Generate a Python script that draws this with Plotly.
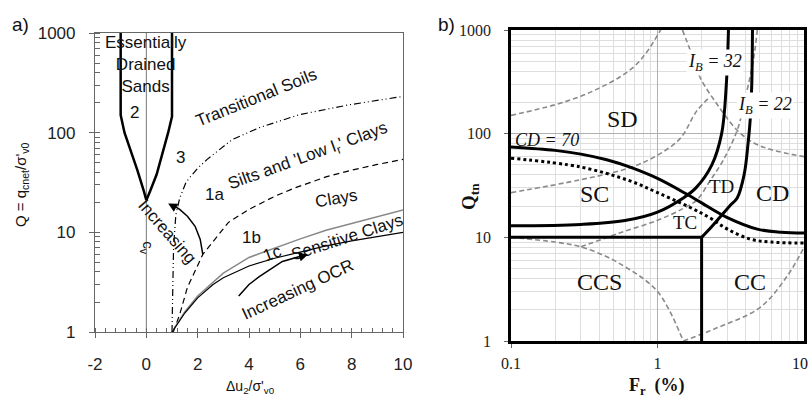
import numpy as np
import plotly.graph_objects as go

# ---------------- Panel a: Q vs du2/sigma'v0 ----------------
sand_left_x = [-1, -1, -0.85, -0.6, -0.35, -0.1, 0]
sand_left_q = [1000, 150, 100, 65, 42, 26, 21]
sand_right_x = [1, 1, 0.85, 0.65, 0.4, 0.15, 0]
sand_right_q = [1000, 145, 100, 65, 38, 26, 21]

trans_x = [1, 1.02, 1.06, 1.15, 1.3, 1.55, 2.0, 2.37, 3.34, 4.39, 5.94, 7.88, 9.83, 10]
trans_q = [1, 3, 7, 15, 22, 32, 44, 54, 85, 112, 151, 190, 229, 231]

clay_x = [1.05, 1.3, 1.6, 2.2, 3.2, 4.0, 5.0, 5.8, 7.0, 8.0, 9.0, 10]
clay_q = [1, 1.5, 2.8, 6, 12.6, 17, 23, 28, 36, 42, 48, 54]

sens_up_x = [1, 1.5, 2, 2.6, 3, 4, 5, 6, 7, 8, 9, 10]
sens_up_q = [1, 1.6, 2.3, 3.2, 3.9, 5.6, 7.0, 8.6, 10.5, 12.3, 14.3, 16.8]
sens_lo_x = [1, 1.5, 2, 2.6, 3, 4, 5, 6, 7, 8, 9, 10]
sens_lo_q = [1, 1.55, 2.2, 3.0, 3.5, 4.6, 5.5, 6.3, 7.3, 8.2, 9.1, 10]

cv_arrow_x = [2.2, 2.1, 1.9, 1.6, 1.3, 1.0]
cv_arrow_q = [6, 8.5, 11.5, 14.5, 17, 19]
ocr_arrow_x = [3.6, 4.0, 4.4, 5.3, 6.25]
ocr_arrow_q = [2.3, 3.0, 3.6, 5.1, 6.0]

# ---------------- Panel b: Qtn vs Fr ----------------
cd70_fr = [0.1, 0.2, 0.3, 0.45, 0.65, 1.0, 1.59, 2.0, 3.0, 4.8, 7, 10]
cd70_q = [74.5, 69, 63.5, 56, 47.5, 37, 26, 21.5, 15.5, 12, 11.2, 11]
dot_fr = [0.1, 0.3, 0.65, 1.0, 1.66, 2.28, 3.0, 4.3, 6, 10]
dot_q = [58, 47.6, 35, 27, 19.5, 15.4, 12, 9.6, 9, 8.8]
ib32_fr = [0.1, 0.3, 0.6, 1.0, 1.5, 1.83, 2.35, 2.74, 2.95, 3.05]
ib32_q = [12.9, 13.3, 14.5, 17.5, 24, 30, 50, 100, 300, 1000]
ib22_fr = [2.0, 2.2, 2.6, 3.1, 3.5, 3.9, 4.15, 4.3, 4.4, 4.45]
ib22_q = [10, 11.5, 15, 20, 24, 40, 80, 140, 300, 1000]
q10_fr = [0.1, 2.0]
q10_q = [10, 10]
fr2_fr = [2.0, 2.0]
fr2_q = [1, 10]

# gray dashed zone boundaries
zb_a_fr = [0.1, 0.2, 0.3, 0.4, 0.55, 0.7, 0.85, 1.05]
zb_a_q = [150, 190, 230, 275, 350, 450, 620, 1000]
zb_b_fr = [1.48, 1.7, 1.95, 2.5, 3.5, 4.5, 6, 10]
zb_b_q = [1000, 600, 350, 200, 108, 82, 70, 60]
zb_d_fr = [0.1, 0.3, 0.65, 1.0, 1.43, 1.85, 2.28]
zb_d_q = [27, 36, 47, 62, 90, 165, 226]
zb_e_fr = [0.1, 0.2, 0.3, 0.45, 0.6, 0.8, 1.0, 1.2, 1.5]
zb_e_q = [10, 9, 8.1, 6.5, 5.2, 4, 3, 2, 1]
zb_f_fr = [0.3, 0.55, 1.0, 1.5, 1.86, 2.28, 2.8, 3.5, 4.0, 4.5, 4.8]
zb_f_q = [8.1, 11, 14.6, 19, 23, 35, 55, 108, 230, 500, 1000]
zb_g_fr = [1.5, 2.55, 5.0, 7.65, 10]
zb_g_q = [1, 1.34, 2.1, 4.2, 8]

sans = "Liberation Sans"
serif = "Liberation Serif"

fig = go.Figure()

def line_a(x, y, color="black", width=1.2, dash="solid"):
    fig.add_trace(go.Scatter(x=x, y=y, mode="lines", xaxis="x", yaxis="y",
                             line=dict(color=color, width=width, dash=dash),
                             hoverinfo="skip", showlegend=False))

def line_b(x, y, color="black", width=3, dash="solid"):
    fig.add_trace(go.Scatter(x=x, y=y, mode="lines", xaxis="x2", yaxis="y2",
                             line=dict(color=color, width=width, dash=dash, shape="spline"),
                             hoverinfo="skip", showlegend=False))

# panel a
line_a([0, 0], [1, 1000], color="#777", width=1)
line_a(sand_left_x, sand_left_q, width=2.5)
line_a(sand_right_x, sand_right_q, width=2.5)
line_a(trans_x, trans_q, width=1.2, dash="7px,3px,1px,3px,1px,3px")
line_a(clay_x, clay_q, width=1.2, dash="6px,4px")
line_a(sens_up_x, sens_up_q, color="#888", width=1.5)
line_a(sens_lo_x, sens_lo_q, width=1.2)
line_a(cv_arrow_x, cv_arrow_q, width=1.5)
line_a(ocr_arrow_x, ocr_arrow_q, width=1.5)

# panel b
gray_dash = dict(color="#8a8a8a", width=1.6, dash="5px,3px")
for fx, qy in [(zb_a_fr, zb_a_q), (zb_b_fr, zb_b_q), (zb_d_fr, zb_d_q), (zb_e_fr, zb_e_q),
               (zb_f_fr, zb_f_q), (zb_g_fr, zb_g_q)]:
    line_b(fx, qy, **gray_dash)
line_b(cd70_fr, cd70_q, width=3)
line_b(dot_fr, dot_q, width=3, dash="dot")
line_b(ib32_fr, ib32_q, width=3)
line_b(ib22_fr, ib22_q, width=3)
line_b(q10_fr, q10_q, width=3)
line_b(fr2_fr, fr2_q, width=3)

ann = []

def text_a(x, q, t, size=17, angle=0, **kw):
    ann.append(dict(x=x, y=np.log10(q), xref="x", yref="y", text=t, showarrow=False,
                    textangle=angle, font=dict(family=sans, size=size, color="#111"), **kw))

def text_b(fr, q, t, size=24, angle=0, italic=False, **kw):
    ann.append(dict(x=np.log10(fr), y=np.log10(q), xref="x2", yref="y2", text=t, showarrow=False,
                    textangle=angle,
                    font=dict(family=serif, size=size, color="#111",
                              style="italic" if italic else "normal"), **kw))

def text_px(px, py, t, family, size, angle=0, xanchor="center"):
    ann.append(dict(x=px / 810, y=1 - py / 399, xref="paper", yref="paper", showarrow=False,
                    xanchor=xanchor, yanchor="middle", textangle=angle, text=t,
                    font=dict(family=family, size=size, color="#111")))

text_a(0, 1000, "Essentially<br>Drained<br>Sands", size=17, yanchor="top", yshift=2)
text_a(-0.47, 158, "2")
text_a(1.32, 56, "3")
text_a(4.3, 224, "Transitional Soils", angle=-22)
text_a(2.65, 24, "1a")
text_a(6.3, 57, "Silts and 'Low I<sub>r</sub>' Clays", angle=-20)
text_a(7.4, 22, "Clays", angle=-10)
text_a(4.1, 8.9, "1b")
text_a(4.9, 6.2, "1c", angle=-20)
text_a(7.8, 8.9, "Sensitive Clays", angle=-18)
text_a(5.9, 2.7, "Increasing OCR", angle=-25)
text_a(0.8, 10.2, "Increasing", angle=49)
text_a(0.05, 7.0, "c<sub>v</sub>", size=15, angle=90)

# arrowheads
ann.append(dict(x=0.85, y=np.log10(19.5), xref="x", yref="y", ax=9, ay=5, text="",
                showarrow=True, arrowhead=2, arrowsize=1.2, arrowwidth=1.5, arrowcolor="black"))
ann.append(dict(x=6.3, y=np.log10(6.0), xref="x", yref="y", ax=-10, ay=3, text="",
                showarrow=True, arrowhead=2, arrowsize=1.2, arrowwidth=1.5, arrowcolor="black"))

text_b(0.58, 138, "SD")
text_b(0.374, 26, "SC")
text_b(1.55, 14, "TC", size=19)
text_b(2.75, 30.7, "TD", size=19)
text_b(6.1, 27, "CD")
text_b(0.4, 3.7, "CCS")
text_b(4.27, 3.7, "CC")
text_b(0.176, 87, "CD = 70", size=18, italic=True)
text_b(2.47, 490, "I<sub>B</sub> = 32", size=18, italic=True, bgcolor="white")
text_b(5.4, 189, "I<sub>B</sub> = 22", size=18, italic=True, bgcolor="white")

# axis titles, panel tags and the last tick label of panel b at the page edge
text_px(22, 185, "Q = q<sub>cnet</sub>/σ'<sub>v0</sub>", sans, 15, angle=-90)
text_px(250, 387, "Δu<sub>2</sub>/σ'<sub>v0</sub>", sans, 14)
text_px(470, 197, "<b>Q<sub>tn</sub></b>", serif, 19, angle=-90)
text_px(657, 386, "<b>F<sub>r</sub>  (%)</b>", serif, 18)
text_px(20, 24, "a)", sans, 19)
text_px(446, 24, "b)", sans, 19)
text_px(810, 363, "10", serif, 16, xanchor="right")

fig.update_layout(
    width=810, height=399, margin=dict(l=0, r=0, t=0, b=0, autoexpand=False),
    paper_bgcolor="white", plot_bgcolor="white", showlegend=False,
    annotations=ann,
    xaxis=dict(domain=[95 / 810, 403 / 810], range=[-2, 10], automargin=False,
               tickvals=[-2, 0, 2, 4, 6, 8, 10], ticktext=["-2", "0", "2", "4", "6", "8", "10"],
               showline=True, linecolor="#666", linewidth=1.2, mirror=True,
               ticks="outside", ticklen=5, tickcolor="#666", showgrid=False, zeroline=False,
               tickfont=dict(family=sans, size=17, color="#222"), ticklabelstandoff=11,
               minor=dict(ticks="inside", ticklen=4, tickcolor="#666", dtick=0.4)),
    yaxis=dict(domain=[1 - 332 / 399, 1 - 33 / 399], type="log", range=[0, 3], automargin=False,
               tickvals=[1, 10, 100, 1000], ticktext=["1", "10", "100", "1000"],
               showline=True, linecolor="#666", linewidth=1.2, mirror=True,
               ticks="outside", ticklen=5, tickcolor="#666", showgrid=False, zeroline=False,
               tickfont=dict(family=sans, size=17, color="#222"), ticklabelstandoff=10,
               minor=dict(ticks="inside", ticklen=5, tickcolor="#666", dtick="D1")),
    xaxis2=dict(domain=[511 / 810, 804 / 810], type="log", range=[-1, 1], anchor="y2",
                automargin=False,
                tickvals=[0.1, 1], ticktext=["0.1", "1"],
                showline=True, linecolor="black", linewidth=2.5, mirror=True,
                ticks="outside", ticklen=4, tickcolor="#666",
                showgrid=True, gridcolor="#b0b0b0", gridwidth=1, zeroline=False,
                tickfont=dict(family=serif, size=16, color="#222"), ticklabelstandoff=2,
                minor=dict(showgrid=True, gridcolor="#dedede", gridwidth=1, dtick="D1")),
    yaxis2=dict(domain=[1 - 341 / 399, 1 - 30 / 399], type="log", range=[0, 3], anchor="x2",
                automargin=False,
                tickvals=[1, 10, 100, 1000], ticktext=["1", "10", "100", "1000"],
                showline=True, linecolor="black", linewidth=2.5, mirror=True,
                ticks="outside", ticklen=4, tickcolor="#666",
                showgrid=True, gridcolor="#b0b0b0", gridwidth=1, zeroline=False,
                tickfont=dict(family=serif, size=16, color="#222"), ticklabelstandoff=10,
                minor=dict(showgrid=True, gridcolor="#dedede", gridwidth=1, dtick="D1")),
)

fig.write_html("out.html")
